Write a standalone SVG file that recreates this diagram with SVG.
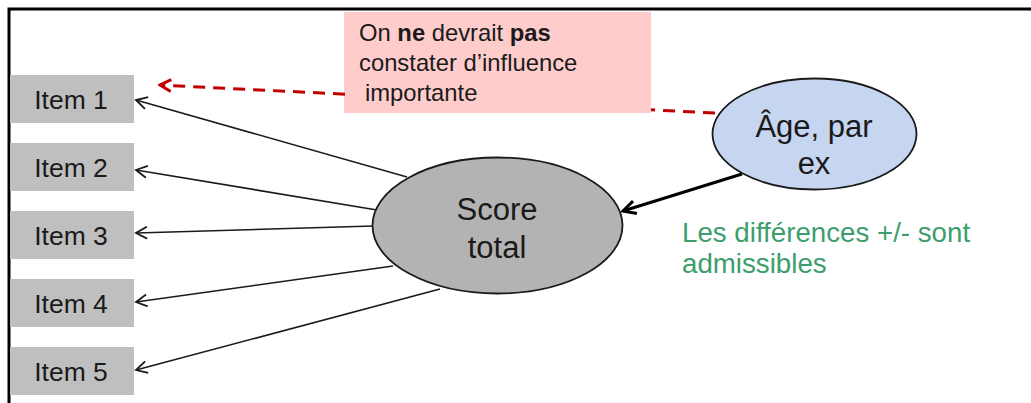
<svg xmlns="http://www.w3.org/2000/svg" width="1031" height="403" viewBox="0 0 1031 403">
  <style>
    .item { fill: #BFBFBF; }
    .itxt { font-family: "Liberation Sans", Arial, sans-serif; font-size: 26.5px; fill: #1a1a1a; text-anchor: middle; }
    .big { font-family: "Liberation Sans", Arial, sans-serif; font-size: 31px; fill: #1a1a1a; text-anchor: middle; }
    .note { font-family: "Liberation Sans", Arial, sans-serif; font-size: 23.8px; fill: #1a1a1a; }
    .green { font-family: "Liberation Sans", Arial, sans-serif; font-size: 27.7px; fill: #3C9E6C; }
    .thin { stroke: #1a1a1a; stroke-width: 1.6; fill: none; marker-end: url(#open); }
  </style>
  <defs>
    <marker id="open" markerWidth="14" markerHeight="14" refX="12" refY="7" orient="auto" markerUnits="userSpaceOnUse">
      <path d="M1,1 L12,7 L1,13" fill="none" stroke="#1a1a1a" stroke-width="1.8"/>
    </marker>
    <marker id="openThick" markerWidth="16" markerHeight="16" refX="14" refY="8" orient="auto" markerUnits="userSpaceOnUse">
      <path d="M1.5,1.5 L14,8 L1.5,14.5" fill="none" stroke="#000" stroke-width="3"/>
    </marker>
    <marker id="openRed" markerWidth="16" markerHeight="16" refX="14" refY="8" orient="auto" markerUnits="userSpaceOnUse">
      <path d="M3,2 L14,8 L3,14" fill="none" stroke="#C00000" stroke-width="3"/>
    </marker>
  </defs>

  <rect x="0" y="0" width="1031" height="403" fill="#ffffff"/>
  <!-- frame -->
  <path d="M9,403 L9,9 L1031,9" fill="none" stroke="#000" stroke-width="3"/>

  <!-- note box (behind dashed line) -->
  <g id="note">
    <rect x="344" y="12" width="307" height="101" fill="#FFCCCC"/>
    <text class="note" x="359" y="41">On <tspan font-weight="bold">ne</tspan> devrait <tspan font-weight="bold">pas</tspan></text>
    <text class="note" x="359" y="71">constater d’influence</text>
    <text class="note" x="365" y="101">importante</text>
  </g>

  <g id="connectors">
    <line x1="345" y1="94.2" x2="160" y2="85" stroke="#C00000" stroke-width="3" stroke-dasharray="12,8" marker-end="url(#openRed)"/>
    <line x1="715" y1="113" x2="651" y2="109.8" stroke="#C00000" stroke-width="3" stroke-dasharray="12,8"/>
    <line x1="742" y1="174" x2="623" y2="211" stroke="#000" stroke-width="3" marker-end="url(#openThick)"/>
    <line class="thin" x1="407" y1="177" x2="136" y2="100"/>
    <line class="thin" x1="383" y1="211" x2="136" y2="170"/>
    <line class="thin" x1="373" y1="226" x2="136" y2="233"/>
    <line class="thin" x1="393" y1="266" x2="136" y2="302"/>
    <line class="thin" x1="440" y1="289" x2="136" y2="370"/>
  </g>

  <g id="item1"><rect class="item" x="10" y="75" width="124" height="48"/><text class="itxt" x="71" y="109">Item 1</text></g>
  <g id="item2"><rect class="item" x="10" y="143" width="124" height="48"/><text class="itxt" x="71" y="177">Item 2</text></g>
  <g id="item3"><rect class="item" x="10" y="211" width="124" height="48"/><text class="itxt" x="71" y="245">Item 3</text></g>
  <g id="item4"><rect class="item" x="10" y="279" width="124" height="48"/><text class="itxt" x="71" y="313">Item 4</text></g>
  <g id="item5"><rect class="item" x="10" y="347" width="124" height="48"/><text class="itxt" x="71" y="381">Item 5</text></g>

  <g id="score">
    <ellipse cx="497.5" cy="225.5" rx="125" ry="68" fill="#B3B3B3" stroke="#1a1a1a" stroke-width="1.8"/>
    <text class="big" x="497" y="220">Score</text>
    <text class="big" x="497" y="258">total</text>
  </g>

  <g id="age">
    <ellipse cx="814.5" cy="134" rx="102" ry="55.5" fill="#C6D5F0" stroke="#1a1a1a" stroke-width="1.8"/>
    <text class="big" x="814" y="137">Âge, par</text>
    <text class="big" x="814" y="174">ex</text>
  </g>

  <g id="green-note">
    <text class="green" x="682" y="242">Les différences +/- sont</text>
    <text class="green" x="682" y="273">admissibles</text>
  </g>
</svg>
